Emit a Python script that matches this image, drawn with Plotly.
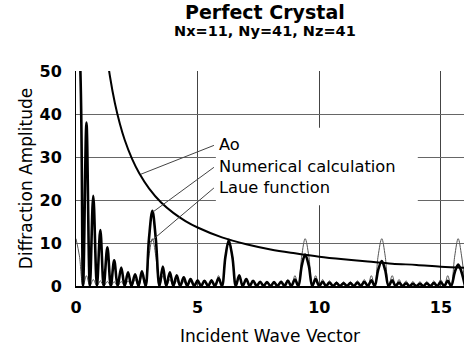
import plotly.graph_objects as go

# Sample positions along the incident wave vector
x_grid = [0.00, 0.14, 0.29, 0.43, 0.57, 0.71, 0.86, 1.00, 1.14, 1.29, 1.43, 1.57, 1.71, 1.86, 2.00,
          2.14, 2.28, 2.43, 2.57, 2.71, 2.86, 3.00, 3.14, 3.28, 3.43, 3.57, 3.71, 3.86, 4.00, 4.14,
          4.28, 4.43, 4.57, 4.71, 4.86, 5.00, 5.14, 5.28, 5.43, 5.57, 5.71, 5.86, 6.00, 6.14, 6.28,
          6.43, 6.57, 6.71, 6.85, 7.00, 7.14, 7.28, 7.43, 7.57, 7.71, 7.85, 8.00, 8.14, 8.28, 8.43,
          8.57, 8.71, 8.85, 9.00, 9.14, 9.28, 9.42, 9.57, 9.71, 9.85, 10.00, 10.14, 10.28, 10.42,
          10.57, 10.71, 10.85, 11.00, 11.14, 11.28, 11.42, 11.57, 11.71, 11.85, 12.00, 12.14, 12.28,
          12.42, 12.57, 12.71, 12.85, 13.00, 13.14, 13.28, 13.42, 13.57, 13.71, 13.85, 13.99, 14.14,
          14.28, 14.42, 14.57, 14.71, 14.85, 14.99, 15.14, 15.28, 15.42, 15.57, 15.71, 15.85, 15.99]

laue = [11, 7.0, 0, 2.4, 0, 1.5, 0, 1.2, 0, 1.05, 0, 1.0, 0, 1.05, 0, 1.2, 0, 1.5, 0, 2.4, 0, 7.0,
        11, 7.0, 0, 2.4, 0, 1.5, 0, 1.2, 0, 1.05, 0, 1.0, 0, 1.05, 0, 1.2, 0, 1.5, 0, 2.4, 0, 7.0,
        11, 7.0, 0, 2.4, 0, 1.5, 0, 1.2, 0, 1.05, 0, 1.0, 0, 1.05, 0, 1.2, 0, 1.5, 0, 2.4, 0, 7.0,
        11, 7.0, 0, 2.4, 0, 1.5, 0, 1.2, 0, 1.05, 0, 1.0, 0, 1.05, 0, 1.2, 0, 1.5, 0, 2.4, 0, 7.0,
        11, 7.0, 0, 2.4, 0, 1.5, 0, 1.2, 0, 1.05, 0, 1.0, 0, 1.05, 0, 1.2, 0, 1.5, 0, 2.4, 0, 7.0,
        11, 7.0, 0]

numerical = [60, 55, 0, 38, 0, 21, 0, 13, 0, 9, 0, 6, 0, 4.3, 0, 3.2, 0, 2.7, 0, 3.4, 0, 11,
             17.5, 11, 0, 4.5, 0, 3.2, 0, 2.5, 0, 2.0, 0, 1.6, 0, 1.3, 0, 1.2, 0, 1.3, 0, 1.8, 0, 6.7,
             10.5, 6.7, 0, 2.5, 0, 1.6, 0, 1.2, 0, 1.0, 0, 0.9, 0, 0.9, 0, 1.0, 0, 1.2, 0, 1.5, 0, 4.7,
             7.3, 4.7, 0, 1.6, 0, 1.0, 0, 0.8, 0, 0.7, 0, 0.6, 0, 0.7, 0, 0.8, 0, 1.0, 0, 1.3, 0, 3.7,
             5.8, 3.7, 0, 1.3, 0, 0.8, 0, 0.6, 0, 0.5, 0, 0.5, 0, 0.6, 0, 0.7, 0, 0.9, 0, 1.2, 0, 3.2,
             5.0, 3.2, 0]

ao_x = [1.2, 1.4, 1.6, 1.8, 2.0, 2.3, 2.6, 3.0, 3.5, 4.0, 4.5, 5.0, 6.0, 7.0, 8.0, 9.0, 10.0,
        11.0, 12.0, 13.0, 14.0, 15.0, 16.0]
ao_y = [56.7, 48.6, 42.5, 37.8, 34.0, 29.6, 26.2, 22.7, 19.4, 17.0, 15.1, 13.6, 11.3, 9.7, 8.5,
        7.6, 6.8, 6.2, 5.7, 5.2, 4.9, 4.5, 4.25]

x_ticks = [0, 5, 10, 15]
y_ticks = [0, 10, 20, 30, 40, 50]

label_texts = ["Ao", "Numerical calculation", "Laue function"]
title_text = "Perfect Crystal"
subtitle_text = "Nx=11, Ny=41, Nz=41"

FONT = "DejaVu Sans"

fig = go.Figure()
fig.add_trace(go.Scatter(x=x_grid, y=laue, mode="lines", line=dict(color="#555555", width=1, shape="spline"),
                         name="Laue function", showlegend=False))
fig.add_trace(go.Scatter(x=x_grid, y=numerical, mode="lines", line=dict(color="black", width=2.6, shape="spline"),
                         name="Numerical calculation", showlegend=False))
fig.add_trace(go.Scatter(x=ao_x, y=ao_y, mode="lines", line=dict(color="black", width=2, shape="spline"),
                         name="Ao", showlegend=False))

# white box behind labels
fig.add_shape(type="rect", xref="x", yref="y", x0=5.75, x1=14.05, y0=18.8, y1=36.8,
              fillcolor="white", line=dict(width=0), layer="above")
# leader lines
for (xa, ya, xb, yb) in [(5.67, 32.7, 2.67, 26.0), (5.67, 27.6, 3.16, 17.2), (5.67, 22.8, 3.04, 10.2)]:
    fig.add_shape(type="line", xref="x", yref="y", x0=xa, y0=ya, x1=xb, y1=yb,
                  line=dict(color="#444444", width=1), layer="above")

for txt, yv in zip(label_texts, [32.8, 27.7, 23.0]):
    fig.add_annotation(x=5.80, y=yv, xref="x", yref="y", text=txt, showarrow=False,
                       xanchor="left", yanchor="middle", font=dict(family=FONT, size=16.3, color="black"))

fig.add_annotation(x=(265 - 76) / 388, y=1 + (71 - 12) / 215, xref="paper", yref="paper",
                   text="<b>" + title_text + "</b>", showarrow=False, yanchor="middle",
                   font=dict(family=FONT, size=19, color="black"))
fig.add_annotation(x=(265 - 76) / 388, y=1 + (71 - 31) / 215, xref="paper", yref="paper",
                   text="<b>" + subtitle_text + "</b>", showarrow=False, yanchor="middle",
                   font=dict(family=FONT, size=14.5, color="black"))

fig.update_layout(
    width=464, height=349,
    margin=dict(l=76, r=0, t=71, b=63),
    paper_bgcolor="white", plot_bgcolor="white",
    xaxis=dict(range=[0, 15.95], tickvals=x_ticks, ticktext=[str(v) for v in x_ticks],
               showgrid=True, gridcolor="#444444", gridwidth=1,
               showline=True, linecolor="black", linewidth=2, zeroline=False,
               tickfont=dict(family=FONT, size=16, color="black", weight="bold"),
               ticks="", ticklabelstandoff=6,
               title=dict(text="Incident Wave Vector", font=dict(family=FONT, size=17, color="black"), standoff=14)),
    yaxis=dict(range=[0, 50], tickvals=y_ticks, ticktext=[str(v) for v in y_ticks],
               showgrid=True, gridcolor="#666666", gridwidth=1,
               showline=True, linecolor="black", linewidth=1, zeroline=False,
               tickfont=dict(family=FONT, size=16, color="black", weight="bold"),
               ticks="", ticklabelstandoff=10,
               title=dict(text="Diffraction Amplitude", font=dict(family=FONT, size=17, color="black"), standoff=2)),
)

fig.write_html("out.html")
